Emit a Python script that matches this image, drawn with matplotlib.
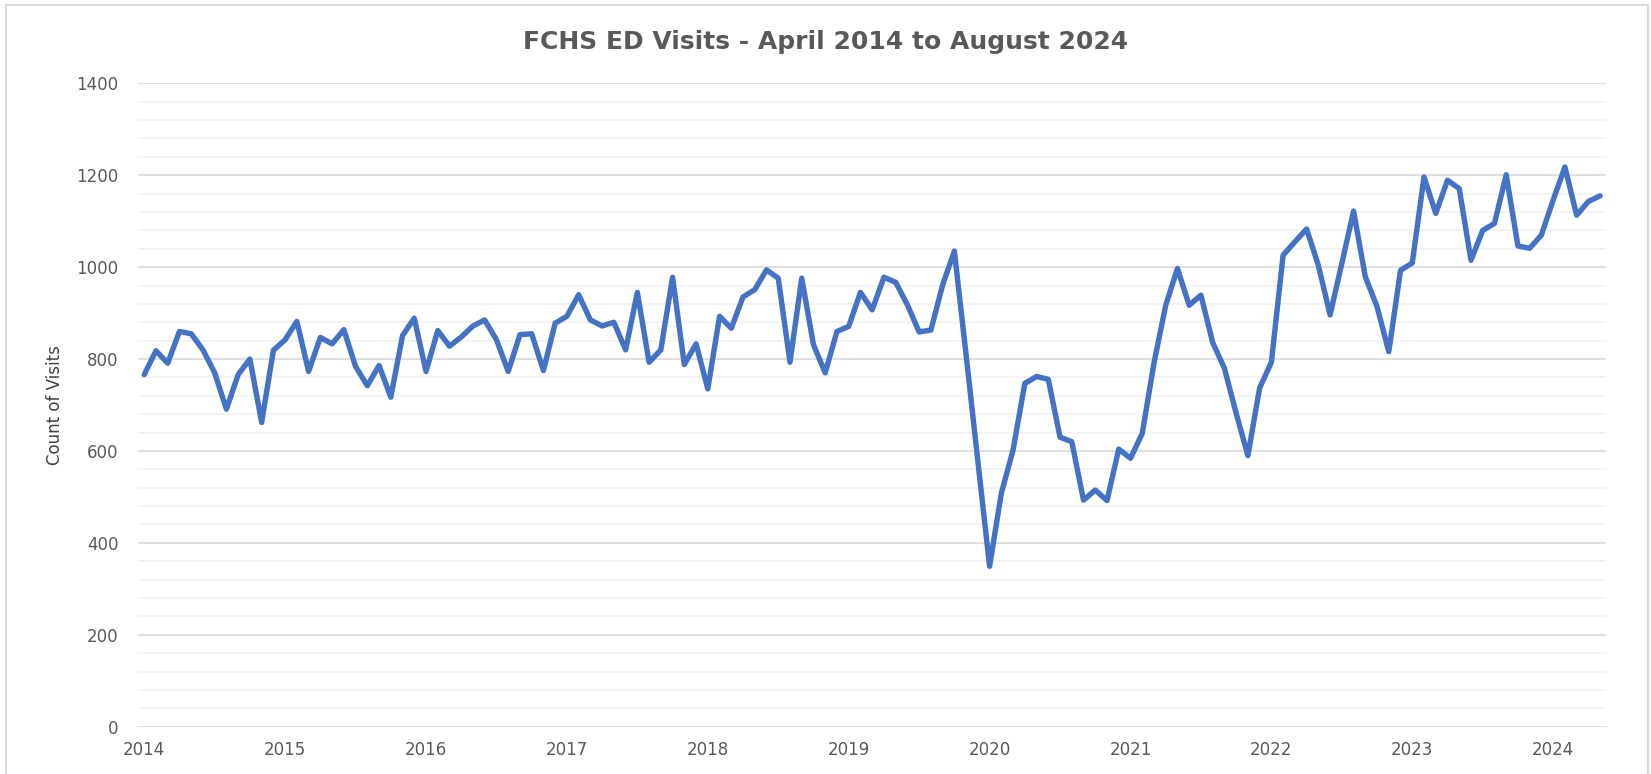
import numpy as np
import matplotlib
matplotlib.use('Agg')
import matplotlib.pyplot as plt
from matplotlib.patches import Rectangle

# Monthly ED visits, April 2014 .. August 2024
visits = [
    766, 818, 791, 860, 855, 820, 770, 691, 766, 800, 662, 819,   # Apr14-Mar15
    842, 882, 773, 847, 833, 864, 784, 742, 786, 717, 851, 889,   # Apr15-Mar16
    773, 862, 828, 848, 872, 885, 842, 773, 853, 855, 775, 878,   # Apr16-Mar17
    893, 940, 885, 872, 880, 820, 945, 793, 820, 978, 788, 833,   # Apr17-Mar18
    735, 893, 867, 935, 951, 994, 976, 793, 976, 831, 770, 860,   # Apr18-Mar19
    871, 945, 907, 978, 967, 918, 859, 863, 961, 1035, 809, 578,  # Apr19-Mar20
    349, 508, 602, 747, 762, 756, 630, 620, 493, 515, 492, 604,   # Apr20-Mar21
    584, 638, 791, 917, 997, 917, 939, 836, 780, 682, 590, 737,   # Apr21-Mar22
    793, 1026, 1055, 1083, 1004, 896, 1008, 1122, 979, 914, 816, 993,  # Apr22-Mar23
    1009, 1196, 1117, 1189, 1171, 1015, 1080, 1095, 1201, 1046, 1041, 1070,  # Apr23-Mar24
    1146, 1218, 1113, 1143, 1155,                                  # Apr24-Aug24
]
year_labels = ['2014', '2015', '2016', '2017', '2018', '2019',
               '2020', '2021', '2022', '2023', '2024']

W, H = 1651, 774
fig = plt.figure(figsize=(W / 100, H / 100), dpi=100)
ax = fig.add_axes([138 / W, 1 - 726.7 / H, (1606 - 138) / W, (726.7 - 83.3) / H])

idx = np.arange(len(visits))
ax.plot(idx, visits, color='#4472C4', lw=3.9, solid_joinstyle='round',
        solid_capstyle='round', zorder=3)

ax.set_xlim(-0.53, len(visits) - 0.5)
ax.set_ylim(0, 1400)
ax.set_yticks(np.arange(0, 1401, 200))
ax.set_yticks(np.arange(0, 1401, 40), minor=True)
ax.set_xticks(np.arange(0, len(visits), 12))
ax.set_xticklabels(year_labels)

ax.grid(axis='y', which='major', color='#D9D9D9', lw=1.2, zorder=0)
ax.grid(axis='y', which='minor', color='#F0F0F0', lw=1.1, zorder=0)
ax.set_axisbelow(True)
for s in ax.spines.values():
    s.set_visible(False)
ax.tick_params(axis='both', which='both', length=0, labelsize=12, labelcolor='#595959')
ax.tick_params(axis='y', pad=14)
ax.tick_params(axis='x', pad=10)

ax.set_ylabel('Count of Visits', fontsize=12, color='#404040', labelpad=9)

fig.text(826 / W, 1 - 42 / H, 'FCHS ED Visits - April 2014 to August 2024',
         ha='center', va='center', fontsize=18, fontweight='bold', color='#595959')

# chart frame
fig.patches.append(Rectangle((6 / W, -0.01), (1648 - 6) / W, 1 - 5 / H + 0.01,
                             transform=fig.transFigure, fill=False,
                             edgecolor='#D9D9D9', lw=1.5))

fig.savefig('out.png', dpi=100)
